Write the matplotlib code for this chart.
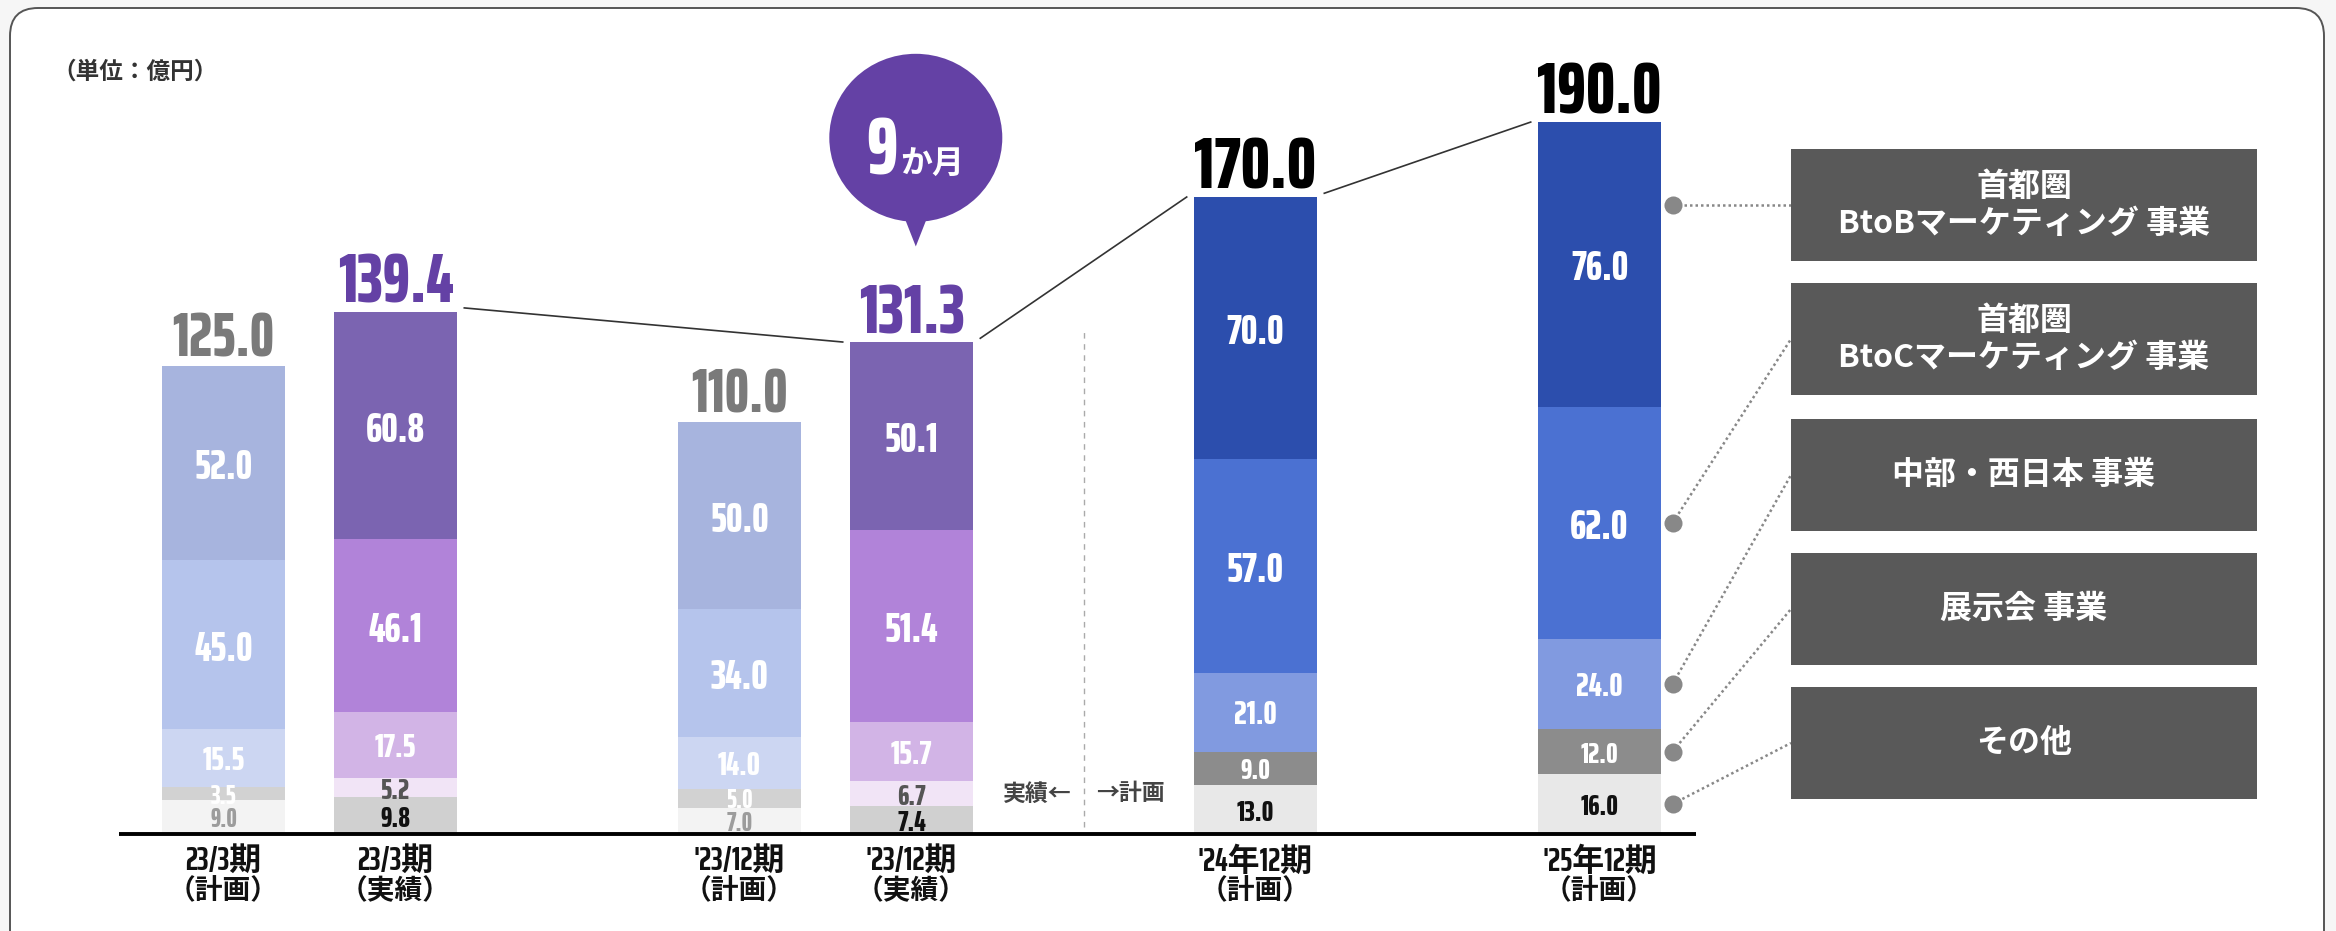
import matplotlib
matplotlib.use("Agg")
import matplotlib.pyplot as plt
from matplotlib.patches import Ellipse, Polygon, Rectangle, FancyBboxPatch

# ---- fonts -------------------------------------------------------------
NUM_FONT = ["Saira ExtraCondensed", "Oswald", "Liberation Sans Narrow", "DejaVu Sans"]
MIX_FONT = ["Saira ExtraCondensed", "Oswald", "Noto Sans CJK JP", "DejaVu Sans"]
JP_FONT = ["Noto Sans CJK JP", "DejaVu Sans"]

# ---- data (億円) -------------------------------------------------------
periods = ["23/3期", "23/3期", "'23/12期", "'23/12期", "'24年12期", "'25年12期"]
kinds = ["（計画）", "（実績）", "（計画）", "（実績）", "（計画）", "（計画）"]
other = [9.0, 9.8, 7.0, 7.4, 13.0, 16.0]          # その他
expo = [3.5, 5.2, 5.0, 6.7, 9.0, 12.0]            # 展示会 事業
chubu = [15.5, 17.5, 14.0, 15.7, 21.0, 24.0]      # 中部・西日本 事業
btoc = [45.0, 46.1, 34.0, 51.4, 57.0, 62.0]       # 首都圏 BtoC
btob = [52.0, 60.8, 50.0, 50.1, 70.0, 76.0]       # 首都圏 BtoB
segment_names = ["その他", "展示会 事業", "中部・西日本 事業",
                 "首都圏\nBtoCマーケティング 事業", "首都圏\nBtoBマーケティング 事業"]
bubble_label = ("9", "か月")

# ---- layout / style ---------------------------------------------------
x_pos = [0, 1, 3, 4, 6, 8]
bar_w = 0.71
scheme = ["plan_old", "actual", "plan_old", "actual", "plan_new", "plan_new"]
seg_colors = {
    "plan_old": ["#F3F3F3", "#D2D2D2", "#CCD6F2", "#B5C4EC", "#A7B4DE"],
    "actual":   ["#D0D0D0", "#F1E4F6", "#D2B4E6", "#B183D9", "#7B64B1"],
    "plan_new": ["#E8E8E8", "#8C8C8C", "#819AE0", "#4B71D2", "#2C4EAD"],
}
lab_colors = {
    "plan_old": ["#9C9C9C", "white", "white", "white", "white"],
    "actual":   ["#111111", "#555555", "white", "white", "white"],
    "plan_new": ["#111111", "white", "white", "white", "white"],
}
lab_sizes = {
    "plan_old": [19, 19, 24, 30, 30],
    "actual":   [21, 21, 24, 30, 30],
    "plan_new": [21, 21, 24, 30, 30],
}
total_colors = ["#7A7A7A", "#6441A5", "#7A7A7A", "#6441A5", "#000000", "#000000"]
total_sizes = [44, 50, 44, 50, 53, 53]

W, H = 2336, 931
fig = plt.figure(figsize=(W / 100, H / 100), dpi=100, facecolor="#F6F6F6")

# outer rounded frame (kept behind everything)
frame = FancyBboxPatch((10 / W, -0.05), 2314 / W, (931 - 8) / H + 0.05,
                       boxstyle="round,pad=0,rounding_size=0.012",
                       transform=fig.transFigure, facecolor="white",
                       edgecolor="#555555", linewidth=1.4, mutation_aspect=W / H,
                       zorder=-10)
fig.patches.append(frame)

ax = fig.add_axes([0, 0, 1, 1])
ax.set_facecolor("none")
ax.axis("off")
px_x, x0_px = 172.0, 223.5          # pixels per category unit, pixel of x=0
px_y, base_px = 3.747, 97.0         # pixels per 億円, baseline from bottom
ax.set_xlim(-x0_px / px_x, (W - x0_px) / px_x)
ax.set_ylim(-base_px / px_y, (H - base_px) / px_y)

series = [other, expo, chubu, btoc, btob]
bottoms = [0.0] * len(x_pos)
for s, vals in enumerate(series):
    cols = [seg_colors[k][s] for k in scheme]
    ax.bar(x_pos, vals, bottom=bottoms, width=bar_w, color=cols,
           edgecolor="none", zorder=2)
    for i, v in enumerate(vals):
        ax.text(x_pos[i], bottoms[i] + v / 2, f"{v:.1f}", ha="center",
                va="center_baseline", fontsize=lab_sizes[scheme[i]][s],
                fontweight=800, color=lab_colors[scheme[i]][s],
                family=NUM_FONT, zorder=4)
    bottoms = [b + v for b, v in zip(bottoms, vals)]
totals = bottoms

# totals above bars
for i, t in enumerate(totals):
    ax.annotate(f"{t:.1f}", (x_pos[i], t), xytext=(0, 9),
                textcoords="offset pixels", ha="center", va="baseline",
                fontsize=total_sizes[i], fontweight=800,
                color=total_colors[i], family=NUM_FONT, zorder=4)

# connectors between actual / plan totals
gap = 0.045
for a, b in [(1, 3), (3, 4), (4, 5)]:
    ax.plot([x_pos[a] + bar_w / 2 + gap, x_pos[b] - bar_w / 2 - gap],
            [totals[a] + 1.0, totals[b]], color="#333333", lw=1.2, zorder=3)

# baseline
ax.plot([-0.61, 8.56], [0, 0], color="black", lw=2.8, solid_capstyle="butt",
        zorder=5)

# category labels
for i, x in enumerate(x_pos):
    ax.text(x, -7.3, periods[i], ha="center", va="center", fontsize=23,
            fontweight="bold", family=MIX_FONT, color="#111111")
    ax.text(x, -15.3, kinds[i], ha="center", va="center", fontsize=20,
            fontweight="bold", family=MIX_FONT, color="#111111")

# actual / plan separator
ax.plot([5, 5], [2, 135], color="#AAAAAA", lw=1.0, ls=(0, (4, 4)), zorder=1)
ax.text(5 - 0.07, 10.7, "実績←", ha="right", va="center", fontsize=16.5,
        fontweight="bold", family=JP_FONT, color="#444444")
ax.text(5 + 0.075, 10.7, "→計画", ha="left", va="center", fontsize=16.5,
        fontweight="bold", family=JP_FONT, color="#444444")

# speech bubble over the latest actual bar
bx = x_pos[3] + 0.025
purple = "#6441A5"
ax.add_patch(Ellipse((bx, totals[3] + 54.5), 173 / px_x, 168 / px_y,
                     facecolor=purple, edgecolor="none", zorder=3))
ax.add_patch(Polygon([(bx - 0.09, totals[3] + 36), (bx + 0.09, totals[3] + 36),
                      (bx, totals[3] + 25.5)], closed=True,
                     facecolor=purple, edgecolor="none", zorder=3))
ax.text(bx - 0.105, totals[3] + 44.8, bubble_label[0], ha="right",
        va="baseline", fontsize=58, fontweight=800, family=NUM_FONT,
        color="white", zorder=4)
ax.text(bx - 0.09, totals[3] + 44.8, bubble_label[1], ha="left",
        va="baseline", fontsize=23, fontweight="bold", family=JP_FONT,
        color="white", zorder=4)

# unit note
fig.text(52 / W, 1 - 72 / H, "（単位：億円）", ha="left", va="center",
         fontsize=17, fontweight="bold", family=MIX_FONT, color="#333333")

# legend boxes with dotted leaders to the last bar
box_x, box_w, box_h = 1791, 466, 112
box_tops = [149, 283, 419, 553, 687]
inv = ax.transData.inverted()
last = len(x_pos) - 1
dot_x = x_pos[last] + bar_w / 2 + 12 / px_x
seg_mid = []
acc = 0.0
for vals in series:
    seg_mid.append(acc + vals[last] / 2)
    acc += vals[last]
seg_mid = seg_mid[::-1]                     # top segment first
names_top_first = segment_names[::-1]
for k, top in enumerate(box_tops):
    fig.patches.append(Rectangle((box_x / W, 1 - (top + box_h) / H),
                                 box_w / W, box_h / H,
                                 transform=fig.transFigure,
                                 facecolor="#595959", edgecolor="none",
                                 zorder=1))
    fig.text((box_x + box_w / 2) / W, 1 - (top + box_h / 2) / H,
             names_top_first[k], ha="center", va="center", fontsize=23,
             fontweight="bold", family=JP_FONT, color="white",
             linespacing=1.2, zorder=2)
    bx_d, by_d = inv.transform((box_x, H - (top + box_h / 2)))
    dy = by_d if k == 0 else seg_mid[k]
    ax.plot([dot_x, bx_d], [dy, by_d], color="#888888", lw=1.8,
            ls=(0, (1, 1.2)), zorder=2)
    ax.plot([dot_x], [dy], "o", color="#888888", ms=13, mec="none", zorder=3)

fig.savefig("out.png", dpi=100, facecolor=fig.get_facecolor())
